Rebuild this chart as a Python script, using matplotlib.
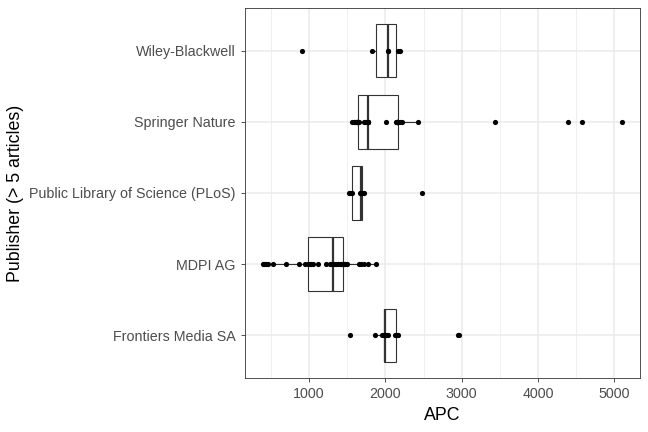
"""
APC by publisher: horizontal boxplots with points on top (ggplot theme_bw look)
"""
import matplotlib
matplotlib.use("Agg")
import matplotlib.pyplot as plt
import numpy as np

plt.rcParams["font.family"] = ["Liberation Sans", "DejaVu Sans"]

publishers = [
    "Frontiers Media SA",
    "MDPI AG",
    "Public Library of Science (PLoS)",
    "Springer Nature",
    "Wiley-Blackwell",
]

apc_frontiers = [1533, 1860, 1950, 1975, 1990, 1996, 1996, 1996, 2010, 2035,
                 2120, 2150, 2166, 2950, 2960]
apc_mdpi = [394, 410, 430, 460, 525, 695, 865, 949, 980, 1000, 1020, 1054,
            1114, 1215, 1271, 1290, 1306, 1320, 1350, 1380, 1400, 1420, 1430,
            1440, 1446, 1460, 1470, 1490, 1647, 1680, 1720, 1777, 1878]
apc_plos = [1520, 1540, 1559, 1660, 1673, 1690, 1695, 1720, 2484]
apc_springer = [1568, 1585, 1600, 1620, 1625, 1629, 1629, 1629, 1647, 1716,
                1734, 1761, 1777, 1777, 1777, 1777, 2013, 2135, 2148, 2148,
                2148, 2148, 2153, 2170, 2187, 2222, 2428, 3431, 4399, 4578, 5102]
apc_wiley = [901, 1821, 2039, 2039, 2167, 2190]

groups = [apc_frontiers, apc_mdpi, apc_plos, apc_springer, apc_wiley]
xticks = [1000, 2000, 3000, 4000, 5000]

fig = plt.figure(figsize=(6.48, 4.32), dpi=100)
ax = fig.add_axes([245 / 648, 1 - 378 / 432, 395 / 648, 370 / 432])

positions = np.arange(1, len(publishers) + 1)
edge = "#333333"
ax.boxplot(groups, positions=positions, vert=False, widths=0.75,
           showfliers=False, showcaps=False, patch_artist=True,
           boxprops=dict(facecolor="white", edgecolor=edge, linewidth=0.8),
           whiskerprops=dict(color=edge, linewidth=0.8),
           medianprops=dict(color=edge, linewidth=1.6), zorder=3)

for pos, vals in zip(positions, groups):
    ax.scatter(vals, np.full(len(vals), pos), s=14, color="black",
               linewidths=0, zorder=4)

# axes limits with ggplot-like 5% expansion
all_vals = np.concatenate([np.array(g) for g in groups])
lo, hi = all_vals.min(), all_vals.max()
pad = 0.05 * (hi - lo)
ax.set_xlim(lo - pad, hi + pad)
ax.set_ylim(0.4, len(publishers) + 0.6)

ax.set_xticks(xticks)
ax.set_xticks([500, 1500, 2500, 3500, 4500], minor=True)
ax.set_yticks(positions)
ax.set_yticklabels(publishers)
ax.grid(True, which="major", color="#EBEBEB", linewidth=1.1, zorder=0)
ax.grid(True, which="minor", axis="x", color="#EBEBEB", linewidth=0.55, zorder=0)
ax.set_axisbelow(True)
ax.tick_params(axis="both", which="major", length=3, width=0.6, color=edge,
               labelsize=10.3, labelcolor="#4D4D4D", pad=3.5)
ax.tick_params(axis="both", which="minor", length=0)
for sp in ax.spines.values():
    sp.set_color(edge)
    sp.set_linewidth(0.6)

ax.set_xlabel("APC", fontsize=12.8, labelpad=4)
ax.set_ylabel("Publisher (> 5 articles)", fontsize=12.8, labelpad=4)

fig.savefig("out.png", dpi=100)
